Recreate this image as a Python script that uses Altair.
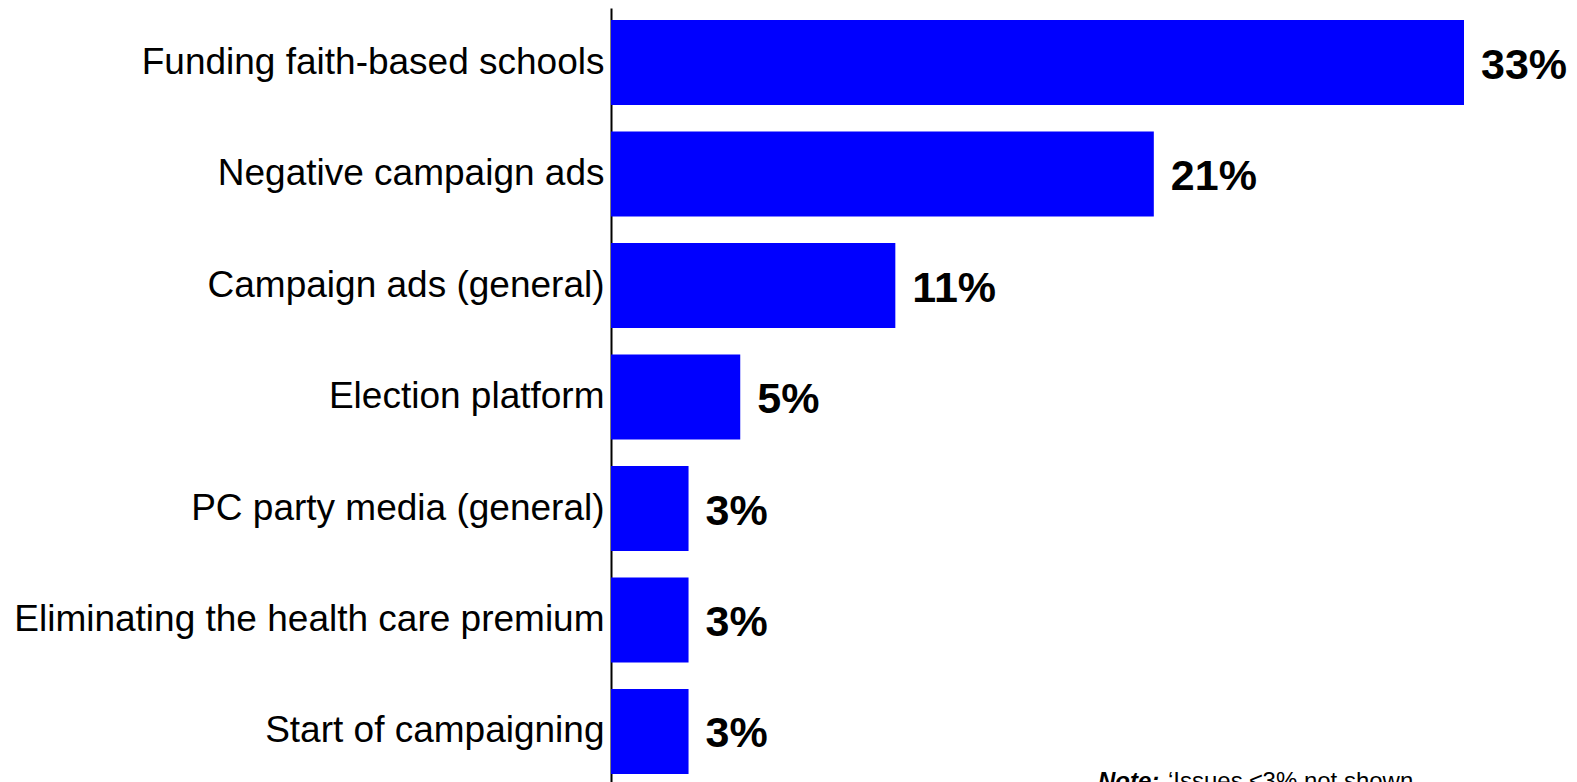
import altair as alt
import pandas as pd

categories = [
    "Funding faith-based schools",
    "Negative campaign ads",
    "Campaign ads (general)",
    "Election platform",
    "PC party media (general)",
    "Eliminating the health care premium",
    "Start of campaigning",
]
values = [33, 21, 11, 5, 3, 3, 3]
labels = ["33%", "21%", "11%", "5%", "3%", "3%", "3%"]
note_bold = ["Note:"]
note_rest = ["\u2018Issues \u22643% not shown"]

df = pd.DataFrame({"issue": categories, "pct": values, "label": labels})

W, H = 853, 774

y_enc = alt.Y(
    "issue:N",
    sort=categories,
    scale=alt.Scale(paddingInner=0.238, paddingOuter=0.09, align=0.6),
    axis=alt.Axis(
        title=None,
        ticks=False,
        domain=True,
        domainColor="black",
        domainWidth=2,
        grid=False,
        labelFont="Liberation Sans",
        labelFontSize=37,
        labelColor="black",
        labelPadding=7,
        labelLimit=700,
    ),
)
x_enc = alt.X(
    "pct:Q",
    scale=alt.Scale(domain=[0, 33], nice=False, zero=True),
    axis=None,
)

bars = alt.Chart(df).mark_bar(color="#0000FF").encode(x=x_enc, y=y_enc)
text = alt.Chart(df).mark_text(
    align="left",
    baseline="middle",
    dx=17,
    dy=3,
    font="Liberation Sans",
    fontSize=43,
    fontWeight="bold",
    color="black",
    clip=False,
).encode(x=x_enc, y=alt.Y("issue:N", sort=categories), text="label:N")

note_df = pd.DataFrame({"b": note_bold, "r": note_rest})
note1 = alt.Chart(note_df).mark_text(
    align="left", baseline="alphabetic", font="Liberation Sans", fontSize=24,
    fontWeight="bold", fontStyle="italic", color="black",
).encode(x=alt.value(487), y=alt.value(781), text="b:N")
note2 = alt.Chart(note_df).mark_text(
    align="left", baseline="alphabetic", font="Liberation Sans", fontSize=24,
    color="black",
).encode(x=alt.value(557), y=alt.value(781), text="r:N")

chart = (
    alt.layer(bars, text, note1, note2)
    .properties(
        width=W,
        height=H,
        background="white",
        autosize=alt.AutoSizeParams(type="none"),
        padding={"left": 603, "top": 0, "right": 105, "bottom": 0},
    )
    .configure_view(strokeWidth=0)
)

chart.save("out.html", embed_options={"renderer": "svg", "actions": False})
